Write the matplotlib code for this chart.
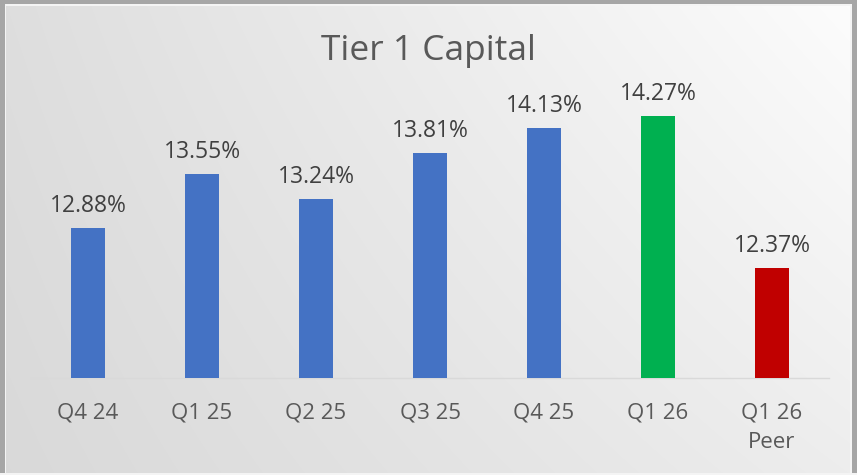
import numpy as np
import matplotlib
matplotlib.use("Agg")
import matplotlib.pyplot as plt
from matplotlib.patches import Rectangle

categories = ["Q4 24", "Q1 25", "Q2 25", "Q3 25", "Q4 25", "Q1 26", "Q1 26\nPeer"]
values = [12.88, 13.55, 13.24, 13.81, 14.13, 14.27, 12.37]
colors = ["#4472C4"] * 5 + ["#00B050", "#C00000"]
title = "Tier 1 Capital"

plt.rcParams['font.family'] = ['Open Sans', 'DejaVu Sans']

W, H = 857, 475
fig = plt.figure(figsize=(W / 100, H / 100), dpi=100)

# background gradient + frame
bg = fig.add_axes([0, 0, 1, 1], zorder=-10)
bg.set_xlim(0, W)
bg.set_ylim(H, 0)
bg.axis("off")
xx, yy = np.meshgrid(np.linspace(0, 1, 200), np.linspace(1, 0, 120))
v = 0.85 + 0.08 * xx + 0.02 * yy + 0.04 * xx * yy
img = np.dstack([v, v, v])
bg.imshow(img, extent=[0, W, H, 0], aspect="auto", interpolation="bilinear")
bg.add_patch(Rectangle((0, 0), 5, H, color="#a6a6a6", lw=0))
bg.add_patch(Rectangle((5, 0), 1.5, H, color="#f4f4f4", lw=0))
bg.add_patch(Rectangle((0, 0), W, 4, color="#a6a6a6", lw=0))
bg.add_patch(Rectangle((5, 4), W, 1.5, color="#f4f4f4", lw=0))
bg.add_patch(Rectangle((W - 5, 0), 5, H, color="#a6a6a6", lw=0))
bg.add_patch(Rectangle((W - 6.5, 4), 1.5, H, color="#f4f4f4", lw=0))
bg.add_patch(Rectangle((0, H - 2), W, 2, color="#f4f4f4", lw=0))

# main axes
left = 31 / W
width = 798 / W
bottom = (H - 378) / H
height = 320 / H
ax = fig.add_axes([left, bottom, width, height])
ax.patch.set_alpha(0)
x = np.arange(len(categories))
bars = ax.bar(x, values, width=0.307, color=colors, bottom=0, zorder=3)
ax.set_xlim(-0.5, len(categories) - 0.5)
ax.set_ylim(11, 15)

for s in ["top", "right", "left"]:
    ax.spines[s].set_visible(False)
ax.spines["bottom"].set_color("#d9d9d9")
ax.spines["bottom"].set_linewidth(1.0)
ax.set_yticks([])
ax.set_xticks(x)
ax.set_xticklabels(categories, fontsize=16, color="#595959", linespacing=1.5)
ax.tick_params(axis="x", length=0, pad=18)

for xi, val in zip(x, values):
    ax.annotate(f"{val:.2f}%", (xi, val), xytext=(0, 11.5), textcoords="offset points",
                ha="center", va="baseline", fontsize=16.5, color="#404040")

fig.text(0.5, 1 - 60 / H, title, ha="center", va="baseline", fontsize=25.5, color="#595959")

fig.savefig("out.png", dpi=100)
